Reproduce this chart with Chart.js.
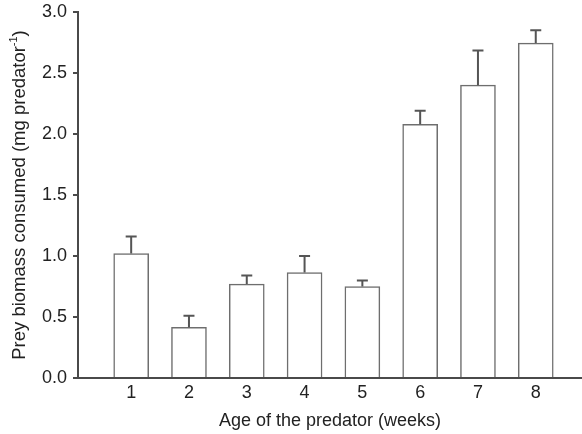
<!DOCTYPE html>
<html>
<head>
<meta charset="utf-8">
<script src="https://cdn.jsdelivr.net/npm/chart.js@4/dist/chart.umd.min.js"></script>
<style>
  html, body { margin: 0; padding: 0; background: #fff; }
  #wrap { width: 582px; height: 434px; }
</style>
</head>
<body>
<div id="wrap"><canvas id="chart"></canvas></div>
<script>
// data
const weeks = [1, 2, 3, 4, 5, 6, 7, 8];
const consumed = [1.02, 0.415, 0.77, 0.865, 0.75, 2.08, 2.40, 2.745];
const sem = [0.14, 0.095, 0.07, 0.135, 0.05, 0.11, 0.285, 0.105];
const yTicks = [0, 0.5, 1.0, 1.5, 2.0, 2.5, 3.0];

const FONT = "'Liberation Sans', Arial, sans-serif";
const AXIS = '#4a4a4a';
const TEXT = '#222';

// upper error bars on top of each bar
const errorBars = {
    id: 'errorBars',
    afterDatasetsDraw(chart) {
        const ctx = chart.ctx;
        const y = chart.scales.y;
        const meta = chart.getDatasetMeta(0);
        ctx.save();
        ctx.strokeStyle = '#555';
        ctx.lineWidth = 2;
        meta.data.forEach((bar, i) => {
            const top = y.getPixelForValue(consumed[i] + sem[i]);
            const base = y.getPixelForValue(consumed[i]);
            ctx.beginPath();
            ctx.moveTo(bar.x, base);
            ctx.lineTo(bar.x, top);
            ctx.moveTo(bar.x - 5.5, top);
            ctx.lineTo(bar.x + 5.5, top);
            ctx.stroke();
        });
        ctx.restore();
    }
};

// y title with a superscript -1
const yTitle = {
    id: 'yTitle',
    afterDraw(chart) {
        const ctx = chart.ctx;
        const area = chart.chartArea;
        const main = 'Prey biomass consumed (mg predator';
        const sup = '-1';
        const tail = ')';
        ctx.save();
        ctx.fillStyle = TEXT;
        ctx.textBaseline = 'middle';
        ctx.textAlign = 'left';
        ctx.font = '18.5px ' + FONT;
        const wMain = ctx.measureText(main).width;
        const wTail = ctx.measureText(tail).width;
        ctx.font = '11px ' + FONT;
        const wSup = ctx.measureText(sup).width;
        const total = wMain + wSup + wTail;
        ctx.translate(20, (area.top + area.bottom) / 2);
        ctx.rotate(-Math.PI / 2);
        let x = -total / 2;
        ctx.font = '18.5px ' + FONT;
        ctx.fillText(main, x, 0);
        x += wMain;
        ctx.font = '11px ' + FONT;
        ctx.fillText(sup, x, -6);
        x += wSup;
        ctx.font = '18.5px ' + FONT;
        ctx.fillText(tail, x, 0);
        ctx.restore();
    }
};

new Chart(document.getElementById('chart'), {
    type: 'bar',
    data: {
        datasets: [{
            data: weeks.map((w, i) => ({x: w, y: consumed[i]})),
            backgroundColor: '#fff',
            borderColor: '#6e6e6e',
            borderWidth: 1.5,
            barThickness: 35
        }]
    },
    options: {
        responsive: true,
        maintainAspectRatio: false,
        animation: false,
        layout: {padding: {top: 12, right: 0, left: 0, bottom: 0}},
        plugins: {legend: {display: false}, tooltip: {enabled: false}},
        scales: {
            x: {
                type: 'linear',
                offset: false,
                min: 0.08,
                max: 8.8,
                afterFit(scale) { scale.height = 56; },
                afterBuildTicks(scale) { scale.ticks = weeks.map(v => ({value: v})); },
                grid: {display: false},
                border: {display: true, color: AXIS, width: 2},
                ticks: {
                    color: TEXT,
                    font: {family: FONT, size: 18},
                    padding: -4,
                    maxRotation: 0,
                    autoSkip: false
                },
                title: {
                    display: true,
                    text: 'Age of the predator (weeks)',
                    color: TEXT,
                    font: {family: FONT, size: 18},
                    padding: {top: 0, bottom: 2}
                }
            },
            y: {
                min: 0,
                max: 3,
                afterFit(scale) {
                    scale.width = 78;
                    scale.paddingTop = 0;
                    scale.paddingBottom = 0;
                },
                afterBuildTicks(scale) { scale.ticks = yTicks.map(v => ({value: v})); },
                grid: {drawOnChartArea: false, drawTicks: true, tickLength: 5, color: AXIS, lineWidth: 2},
                border: {display: true, color: AXIS, width: 2},
                ticks: {
                    color: TEXT,
                    font: {family: FONT, size: 18},
                    padding: 6,
                    callback: v => v.toFixed(1)
                }
            }
        }
    },
    plugins: [errorBars, yTitle]
});
</script>
</body>
</html>
